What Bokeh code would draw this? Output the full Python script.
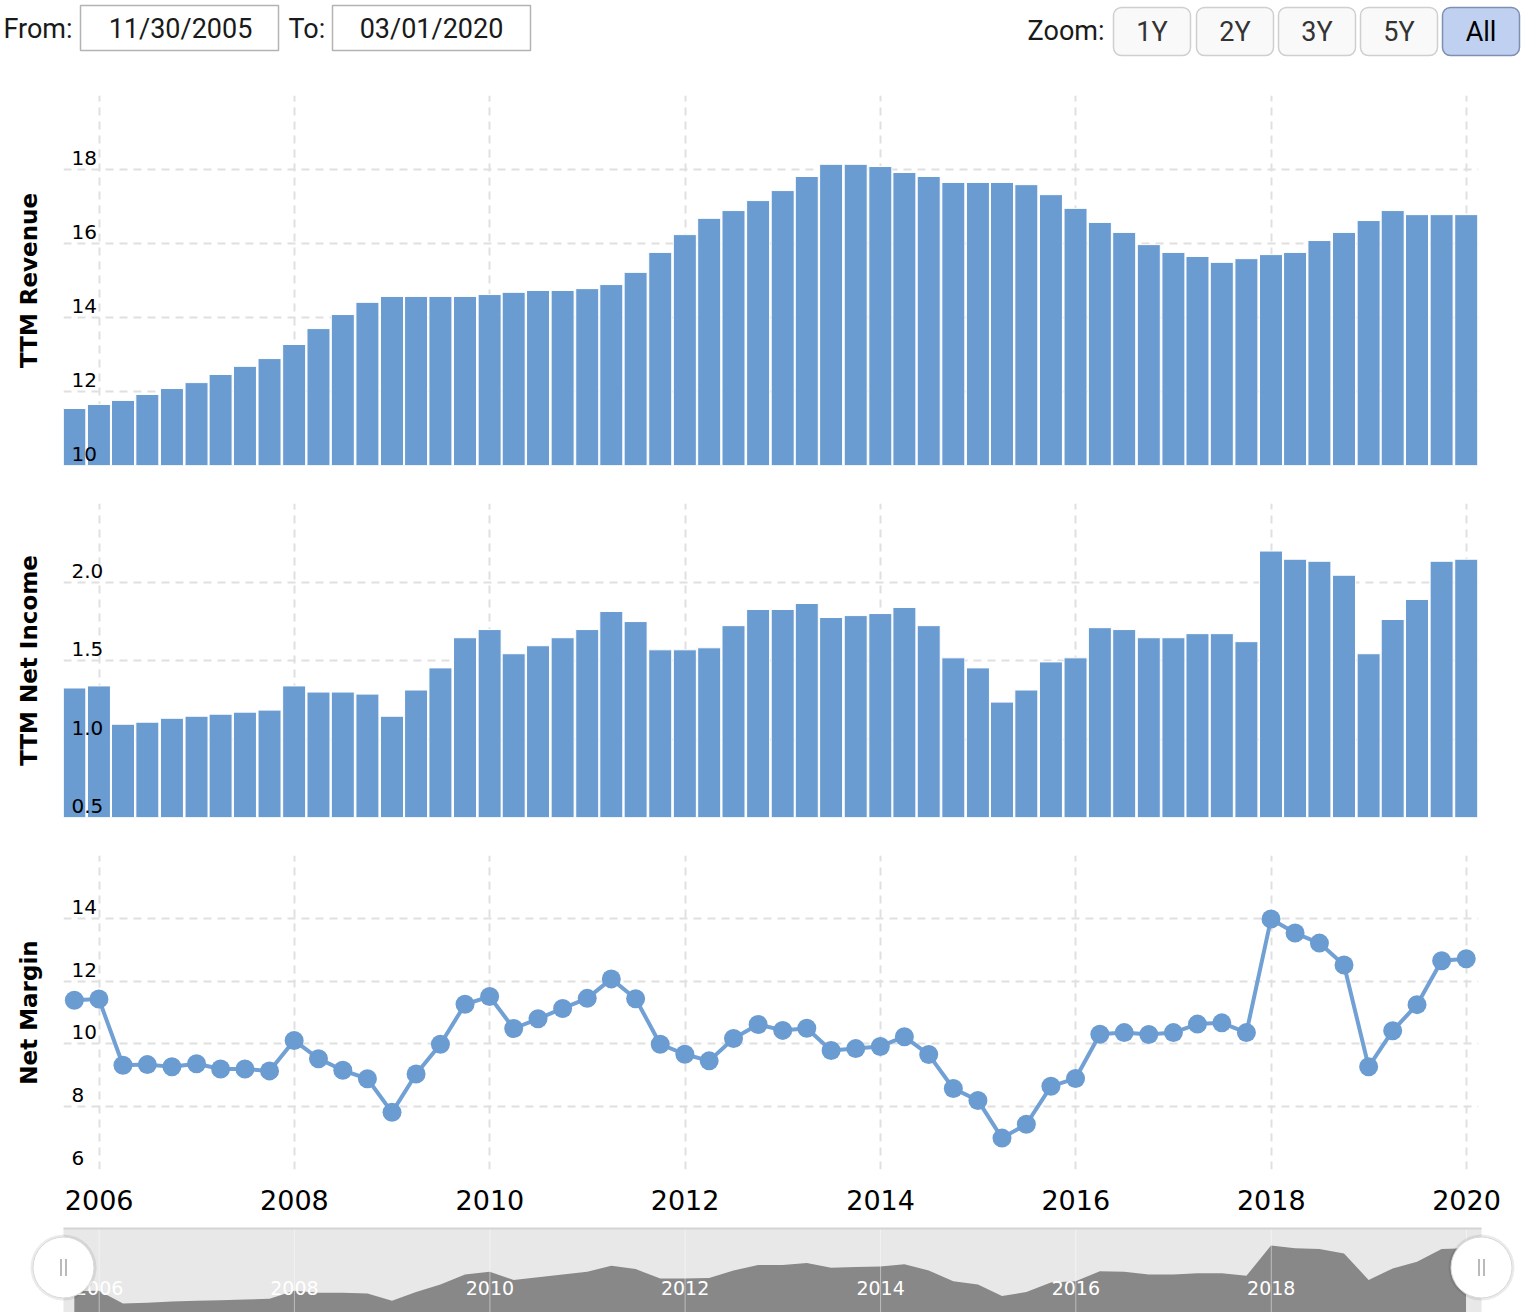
import pandas as pd
from bokeh.plotting import figure
from bokeh.layouts import column
from bokeh.models import (Range1d, FixedTicker, DatetimeAxis, DatetimeTickFormatter, Grid)
from bokeh.core.properties import value
from bokeh.embed import file_html
from bokeh.resources import INLINE

# ---------------- data ----------------
quarter_ends = [
    "2005-09-30", "2005-12-31",
    "2006-03-31", "2006-06-30", "2006-09-30", "2006-12-31",
    "2007-03-31", "2007-06-30", "2007-09-30", "2007-12-31",
    "2008-03-31", "2008-06-30", "2008-09-30", "2008-12-31",
    "2009-03-31", "2009-06-30", "2009-09-30", "2009-12-31",
    "2010-03-31", "2010-06-30", "2010-09-30", "2010-12-31",
    "2011-03-31", "2011-06-30", "2011-09-30", "2011-12-31",
    "2012-03-31", "2012-06-30", "2012-09-30", "2012-12-31",
    "2013-03-31", "2013-06-30", "2013-09-30", "2013-12-31",
    "2014-03-31", "2014-06-30", "2014-09-30", "2014-12-31",
    "2015-03-31", "2015-06-30", "2015-09-30", "2015-12-31",
    "2016-03-31", "2016-06-30", "2016-09-30", "2016-12-31",
    "2017-03-31", "2017-06-30", "2017-09-30", "2017-12-31",
    "2018-03-31", "2018-06-30", "2018-09-30", "2018-12-31",
    "2019-03-31", "2019-06-30", "2019-09-30", "2019-12-31",
]

ttm_revenue = [
    11.54, 11.65, 11.76, 11.92, 12.08, 12.24, 12.46, 12.68, 12.89, 13.27,
    13.70, 14.08, 14.41, 14.57, 14.57, 14.57, 14.57, 14.62, 14.68, 14.73,
    14.73, 14.78, 14.89, 15.22, 15.76, 16.24, 16.68, 16.89, 17.16, 17.43,
    17.81, 18.14, 18.14, 18.08, 17.92, 17.81, 17.65, 17.65, 17.65, 17.59,
    17.32, 16.95, 16.57, 16.30, 15.97, 15.76, 15.65, 15.49, 15.59, 15.70,
    15.76, 16.08, 16.30, 16.62, 16.89, 16.78, 16.78, 16.78,
]

ttm_net_income = [
    1.325, 1.338, 1.094, 1.107, 1.132, 1.145, 1.158, 1.171, 1.184, 1.338,
    1.299, 1.299, 1.286, 1.145, 1.312, 1.453, 1.645, 1.697, 1.543, 1.594,
    1.645, 1.697, 1.812, 1.748, 1.568, 1.568, 1.581, 1.722, 1.825, 1.825,
    1.863, 1.774, 1.786, 1.799, 1.838, 1.722, 1.517, 1.453, 1.235, 1.312,
    1.491, 1.517, 1.709, 1.697, 1.645, 1.645, 1.671, 1.671, 1.620, 2.197,
    2.145, 2.132, 2.043, 1.543, 1.761, 1.889, 2.132, 2.145,
]

net_margin = [
    11.39, 11.43, 9.32, 9.34, 9.27, 9.37, 9.20, 9.20, 9.14, 10.11,
    9.53, 9.16, 8.89, 7.82, 9.04, 9.99, 11.26, 11.51, 10.49, 10.80,
    11.13, 11.45, 12.07, 11.44, 9.99, 9.67, 9.46, 10.17, 10.62, 10.43,
    10.50, 9.79, 9.85, 9.92, 10.23, 9.66, 8.58, 8.20, 7.00, 7.44,
    8.65, 8.90, 10.31, 10.36, 10.30, 10.36, 10.63, 10.67, 10.36, 13.98,
    13.53, 13.21, 12.51, 9.27, 10.42, 11.25, 12.65, 12.71,
]

year_ticks = ["2006-01-01", "2008-01-01", "2010-01-01", "2012-01-01",
              "2014-01-01", "2016-01-01", "2018-01-01", "2020-01-01"]
year_labels = ["2006", "2008", "2010", "2012", "2014", "2016", "2018", "2020"]

rev_grid = [10, 12, 14, 16, 18, 20]
rev_tick_labels = ["10", "12", "14", "16", "18"]
ni_grid = [0.5, 1.0, 1.5, 2.0, 2.5]
ni_tick_labels = ["0.5", "1.0", "1.5", "2.0"]
nm_grid = [6, 8, 10, 12, 14, 16]
nm_tick_labels = ["6", "8", "10", "12", "14"]

from_date = "11/30/2005"
to_date = "03/01/2020"
zoom_buttons = ["1Y", "2Y", "3Y", "5Y", "All"]

# ---------------- styling / geometry ----------------
W = 1526
BAR_BLUE = "#6a9bd1"
LINE_BLUE = "#71a0d4"
GRID = "#e0e0e0"
TICK_FONT = "DejaVu Sans"
UI_FONT = "Roboto"
UI_SIZE = "27px"

dates = pd.to_datetime(quarter_ends)
year_dt = pd.to_datetime(year_ticks)
year_ms = [int(t.value // 10**6) for t in year_dt]

X_FIRST_PX, X_LAST_PX = 98.7, 1466.0          # pixel of first / last year tick
PX_PER_DAY = (X_LAST_PX - X_FIRST_PX) / (year_dt[-1] - year_dt[0]).days


def px_to_date(px):
    return year_dt[0] + pd.Timedelta(days=(px - X_FIRST_PX) / PX_PER_DAY)


FRAME_L, FRAME_R = 63, 1478
xr = Range1d(start=px_to_date(FRAME_L), end=px_to_date(FRAME_R))
BAR_W = 86 * 24 * 3600 * 1000


def panel(height, top, bottom, y0, y1, grid_ticks, title):
    p = figure(width=W, height=height, x_range=xr, y_range=Range1d(y0, y1),
               x_axis_type="datetime", x_axis_location=None, y_axis_location="left",
               output_backend="svg", toolbar_location=None,
               min_border_left=FRAME_L, min_border_right=W - FRAME_R,
               min_border_top=top, min_border_bottom=bottom)
    p.outline_line_color = None
    for g in p.grid:
        g.visible = False
    gx = Grid(dimension=0, ticker=FixedTicker(ticks=year_ms), grid_line_color=GRID,
              grid_line_dash="8 6", grid_line_width=2)
    gy = Grid(dimension=1, ticker=FixedTicker(ticks=grid_ticks), grid_line_color=GRID,
              grid_line_dash="8 6", grid_line_width=2)
    p.add_layout(gx, "center")
    p.add_layout(gy, "center")
    ax = p.yaxis[0]
    ax.ticker = FixedTicker(ticks=[])
    ax.major_label_standoff = 0
    ax.major_tick_out = 0
    ax.major_tick_in = 0
    ax.minor_tick_out = 0
    ax.minor_tick_in = 0
    ax.axis_line_color = None
    ax.axis_label = title
    ax.axis_label_text_font = TICK_FONT
    ax.axis_label_text_font_style = "bold"
    ax.axis_label_text_font_size = "23px"
    ax.axis_label_text_color = "#000000"
    ax.axis_label_standoff = 22
    return p


def tick_texts(p, ticks, labels):
    p.text(x=[xr.start] * len(labels), y=ticks[:len(labels)], text=labels,
           x_offset=8, y_offset=-11.5, text_align="left", text_baseline="middle",
           text_font=value(TICK_FONT), text_font_size="20px", text_color="#000000")


# ---- TTM Revenue ----
p_rev = panel(404, 15, 19, 10, 20, rev_grid, "TTM Revenue")
p_rev.vbar(x=dates, top=ttm_revenue, bottom=10, width=BAR_W,
           fill_color=BAR_BLUE, line_color="white", line_width=1)
tick_texts(p_rev, rev_grid, rev_tick_labels)

# ---- TTM Net Income ----
p_ni = panel(352, 19, 19, 0.5, 2.5, ni_grid, "TTM Net Income")
p_ni.vbar(x=dates, top=ttm_net_income, bottom=0.5, width=BAR_W,
          fill_color=BAR_BLUE, line_color="white", line_width=1)
tick_texts(p_ni, ni_grid, ni_tick_labels)

# ---- Net Margin ----
p_nm = panel(386, 19, 53, 6, 16, nm_grid, "Net Margin")
p_nm.line(x=dates, y=net_margin, line_width=4, line_color=LINE_BLUE)
p_nm.scatter(x=dates, y=net_margin, size=19, fill_color=BAR_BLUE, line_color=None)
tick_texts(p_nm, nm_grid, nm_tick_labels)
xax = DatetimeAxis(ticker=FixedTicker(ticks=year_ms),
                   formatter=DatetimeTickFormatter(years="%Y", months="%Y", days="%Y"))
xax.major_tick_out = 0
xax.major_tick_in = 0
xax.minor_tick_out = 0
xax.minor_tick_in = 0
xax.axis_line_color = None
xax.major_label_standoff = 20
xax.major_label_text_font = TICK_FONT
xax.major_label_text_font_size = "27px"
xax.major_label_text_color = "#000000"
p_nm.add_layout(xax, "below")

# ---- Navigator ----
NAV_H = 90
NAV_TOP_VAL, NAV_BOT_VAL = 2.634, 0.923


def nav_val(py):  # py measured from navigator canvas top
    return NAV_TOP_VAL - py * (NAV_TOP_VAL - NAV_BOT_VAL) / NAV_H


nav = figure(width=W, height=NAV_H, x_range=Range1d(px_to_date(0), px_to_date(W)),
             y_range=Range1d(NAV_BOT_VAL, NAV_TOP_VAL), x_axis_location=None,
             y_axis_location=None, output_backend="svg", toolbar_location=None,
             min_border_left=0, min_border_right=0, min_border_top=0, min_border_bottom=0,
             frame_align=False)
nav.outline_line_color = None
for g in nav.grid:
    g.visible = False
nav_left, nav_right = xr.start, px_to_date(1481)
nav_box_top = nav_val(6)
nav.quad(left=[nav_left], right=[nav_right], bottom=[NAV_BOT_VAL], top=[nav_box_top],
         fill_color="#e8e8e8", line_color=None)
nav.varea(x=dates, y1=NAV_BOT_VAL, y2=ttm_net_income, fill_color="#888888")
nav.segment(x0=year_dt, x1=year_dt, y0=NAV_BOT_VAL, y1=nav_box_top,
            line_color="#ffffff", line_alpha=0.45, line_width=1)
nav.segment(x0=[nav_left], x1=[nav_right], y0=[nav_box_top], y1=[nav_box_top],
            line_color="#d4d4d4", line_width=2)
nav.text(x=year_dt[:-1], y=[NAV_BOT_VAL] * (len(year_dt) - 1), text=year_labels[:-1],
         y_offset=-25, text_align="center", text_baseline="middle",
         text_font=value(TICK_FONT), text_font_size="19px", text_color="#ffffff")
handle_y = nav_val(45)
nav.scatter(x=[nav_left, nav_right], y=[handle_y, handle_y], size=66,
            fill_color="#000000", fill_alpha=0.08, line_color=None)
nav.scatter(x=[nav_left, nav_right], y=[handle_y, handle_y], size=61,
            fill_color="#ffffff", line_color="#d8d8d8", line_width=1)
grip = pd.Timedelta(days=2.5 / PX_PER_DAY)
nav.scatter(x=[nav_left - grip, nav_left + grip, nav_right - grip, nav_right + grip],
            y=[handle_y] * 4, marker="dash", angle=1.5708, size=17,
            line_color="#8c8c8c", line_width=1.2)

# ---- Header (range selector / zoom buttons) ----
hdr = figure(width=W, height=80, x_range=Range1d(0, W), y_range=Range1d(80, 0),
             x_axis_location=None, y_axis_location=None, output_backend="svg",
             toolbar_location=None, min_border_left=0, min_border_right=0,
             min_border_top=0, min_border_bottom=0, frame_align=False)
hdr.outline_line_color = None
for g in hdr.grid:
    g.visible = False
hdr.quad(left=[80, 332], right=[278, 530], top=[5, 5], bottom=[50, 50],
         fill_color="#ffffff", line_color="#b3b3b3", line_width=1.5)
hdr.text(x=[3, 288], y=[28, 28], text=["From:", "To:"], text_align="left",
         text_baseline="middle", text_font=value(UI_FONT), text_font_size=UI_SIZE,
         text_color="#1a1a1a")
hdr.text(x=[180, 431], y=[28, 28], text=[from_date, to_date], text_align="center",
         text_baseline="middle", text_font=value(UI_FONT), text_font_size=UI_SIZE,
         text_color="#1a1a1a")
hdr.text(x=[1104], y=[30], text=["Zoom:"], text_align="right", text_baseline="middle",
         text_font=value(UI_FONT), text_font_size=UI_SIZE, text_color="#1a1a1a")
btn_left = [1113, 1196, 1278, 1360, 1442]
btn_w = 77
hdr.quad(left=btn_left[:-1], right=[b + btn_w for b in btn_left[:-1]],
         top=[7] * 4, bottom=[55] * 4, fill_color="#f9f9f9", line_color="#cfcfcf",
         line_width=1.5, border_radius=8)
hdr.quad(left=[btn_left[-1]], right=[btn_left[-1] + btn_w], top=[7], bottom=[55],
         fill_color="#bfd0f0", line_color="#7f8fb3", line_width=1.5, border_radius=8)
hdr.text(x=[b + btn_w / 2 for b in btn_left], y=[31] * 5, text=zoom_buttons,
         text_align="center", text_baseline="middle", text_font=value(UI_FONT),
         text_font_size=UI_SIZE, text_color=["#333333"] * 4 + ["#000000"])

layout = column(hdr, p_rev, p_ni, p_nm, nav, spacing=0)
open("out.html", "w").write(file_html(layout, INLINE))
